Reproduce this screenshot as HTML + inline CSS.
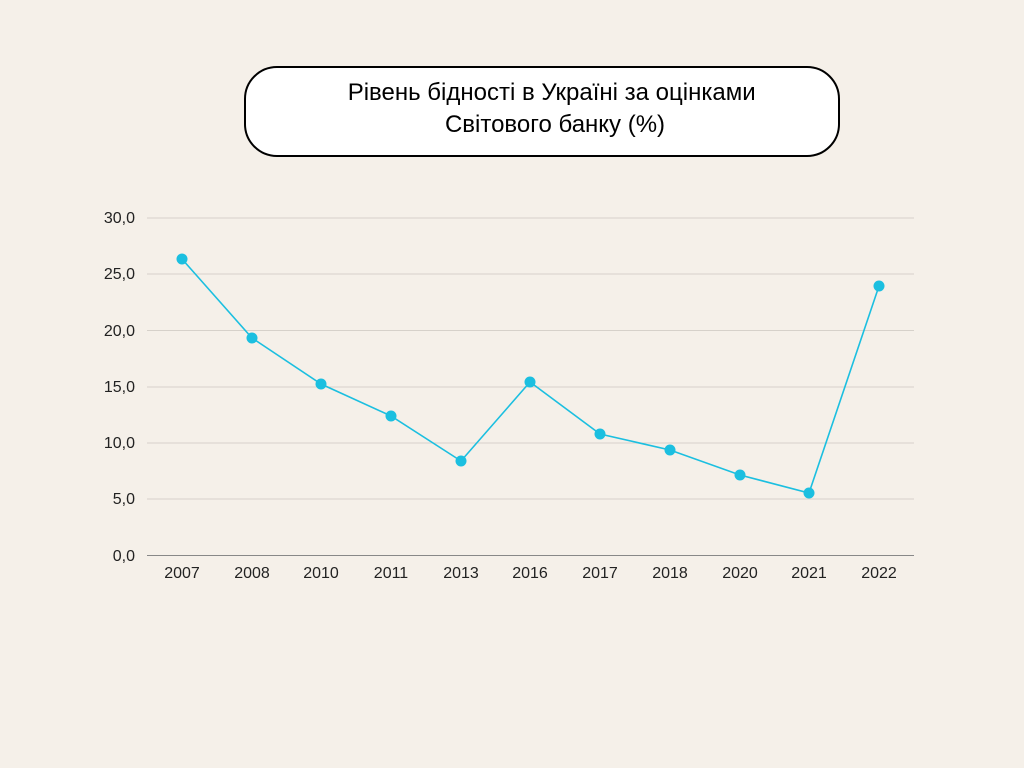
<!DOCTYPE html>
<html><head><meta charset="utf-8"><style>
html,body{margin:0;padding:0;background:#f5f0e9;}
</style></head><body>
<svg width="1024" height="768" xmlns="http://www.w3.org/2000/svg" style="display:block">
<rect width="1024" height="768" fill="#f5f0e9"/>
<rect x="245" y="67" width="594" height="89" rx="32" ry="32" fill="#fff" stroke="#000" stroke-width="2"/>
<text font-family="Liberation Sans, sans-serif" font-size="24" fill="#000" text-anchor="middle">
<tspan x="555" y="100">Рівень бідності в Україні за оцінками</tspan>
<tspan x="555" y="132">Світового банку (%)</tspan></text>
<g stroke="#d6d1ca" stroke-width="1">
<line x1="147" x2="914" y1="218" y2="218"/><line x1="147" x2="914" y1="274" y2="274"/>
<line x1="147" x2="914" y1="330.5" y2="330.5"/><line x1="147" x2="914" y1="387" y2="387"/>
<line x1="147" x2="914" y1="443" y2="443"/><line x1="147" x2="914" y1="499" y2="499"/>
</g>
<line x1="147" x2="914" y1="555.5" y2="555.5" stroke="#888" stroke-width="1"/>
<g font-family="Liberation Sans, sans-serif" font-size="16" fill="#222" text-anchor="end">
<text x="135" y="223">30,0</text><text x="135" y="279">25,0</text><text x="135" y="336">20,0</text>
<text x="135" y="392">15,0</text><text x="135" y="448">10,0</text><text x="135" y="504">5,0</text><text x="135" y="561">0,0</text>
</g>
<g font-family="Liberation Sans, sans-serif" font-size="16" fill="#222" text-anchor="middle">
<text x="182" y="578">2007</text><text x="252" y="578">2008</text><text x="321" y="578">2010</text>
<text x="391" y="578">2011</text><text x="461" y="578">2013</text><text x="530" y="578">2016</text>
<text x="600" y="578">2017</text><text x="670" y="578">2018</text><text x="740" y="578">2020</text>
<text x="809" y="578">2021</text><text x="879" y="578">2022</text>
</g>
<polyline fill="none" stroke="#1bbfe0" stroke-width="1.6" points="182,259 252,338 321,384 391,416 461,461 530,382 600,434 670,450 740,475 809,493 879,286"/>
<g fill="#1bbfe0">
<circle cx="182" cy="259" r="5.5"/><circle cx="252" cy="338" r="5.5"/><circle cx="321" cy="384" r="5.5"/>
<circle cx="391" cy="416" r="5.5"/><circle cx="461" cy="461" r="5.5"/><circle cx="530" cy="382" r="5.5"/>
<circle cx="600" cy="434" r="5.5"/><circle cx="670" cy="450" r="5.5"/><circle cx="740" cy="475" r="5.5"/>
<circle cx="809" cy="493" r="5.5"/><circle cx="879" cy="286" r="5.5"/>
</g>
</svg>
</body></html>
